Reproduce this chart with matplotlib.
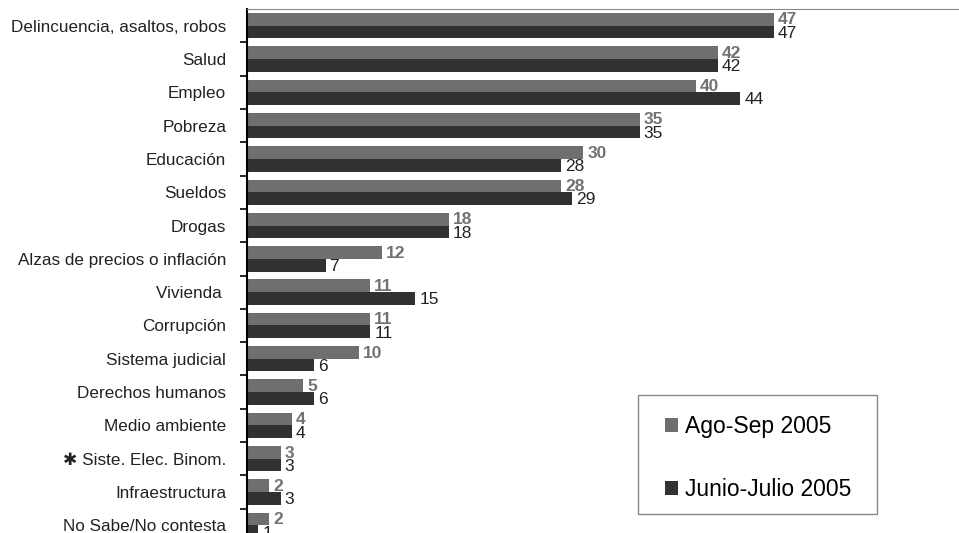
import numpy as np
import matplotlib
matplotlib.use('Agg')
import matplotlib.pyplot as plt
from matplotlib.patches import Rectangle

plt.rcParams['font.family'] = ['Liberation Sans', 'DejaVu Sans']

categories = ['Delincuencia, asaltos, robos', 'Salud', 'Empleo', 'Pobreza',
              'Educación', 'Sueldos', 'Drogas', 'Alzas de precios o inflación',
              'Vivienda ', 'Corrupción', 'Sistema judicial', 'Derechos humanos',
              'Medio ambiente', '\u2731 Siste. Elec. Binom.', 'Infraestructura',
              'No Sabe/No contesta']
ago_sep = [47, 42, 40, 35, 30, 28, 18, 12, 11, 11, 10, 5, 4, 3, 2, 2]
jun_jul = [47, 42, 44, 35, 28, 29, 18, 7, 15, 11, 6, 6, 4, 3, 3, 1]

c_light = '#6f6f6f'
c_dark = '#333033'

W, H = 959, 533
fig = plt.figure(figsize=(W / 100, H / 100), dpi=100)
ax = fig.add_axes([247 / W, -9 / H, 711 / W, 1.0])

y = np.arange(len(categories))
h = 0.38
ax.barh(y - h / 2, ago_sep, height=h, color=c_light, label='Ago-Sep 2005')
ax.barh(y + h / 2, jun_jul, height=h, color=c_dark, label='Junio-Julio 2005')

for i, (a, b) in enumerate(zip(ago_sep, jun_jul)):
    ax.text(a + 0.35, i - h / 2 + 0.02, str(a), color='#727272', fontsize=12.5,
            fontweight='bold', va='center', ha='left')
    ax.text(b + 0.35, i + h / 2 + 0.04, str(b), color='#222222', fontsize=12.5,
            va='center', ha='left')

ax.set_xlim(0, 63.4)
ax.set_ylim(len(categories) - 0.5, -0.5)
ax.set_yticks(y)
ax.set_yticklabels(categories, fontsize=12.3, color='#222222')
ax.tick_params(axis='y', which='major', length=0, pad=15)
ax.set_yticks(np.arange(len(categories)) + 0.5, minor=True)
ax.tick_params(axis='y', which='minor', length=5, width=1.2, direction='out')
ax.set_xticks([])

ax.spines['right'].set_visible(False)
ax.spines['bottom'].set_visible(False)
ax.spines['top'].set_color('#888888')
ax.spines['left'].set_color('black')
ax.spines['left'].set_linewidth(1.5)

# legend box drawn separately so its padding can match
fig.patches.append(Rectangle((638 / W, 1 - 514 / H), 239 / W, 119 / H,
                             transform=fig.transFigure, fill=False,
                             edgecolor='#888888', linewidth=1.0))
ax.legend(loc='upper left', bbox_to_anchor=(665 / W, 1 - 415 / H),
          bbox_transform=fig.transFigure, fontsize=16.5, frameon=False,
          handlelength=0.57, handleheight=0.57, handletextpad=0.3,
          labelspacing=1.75, borderpad=0, borderaxespad=0)

fig.savefig('out.png', dpi=100)
